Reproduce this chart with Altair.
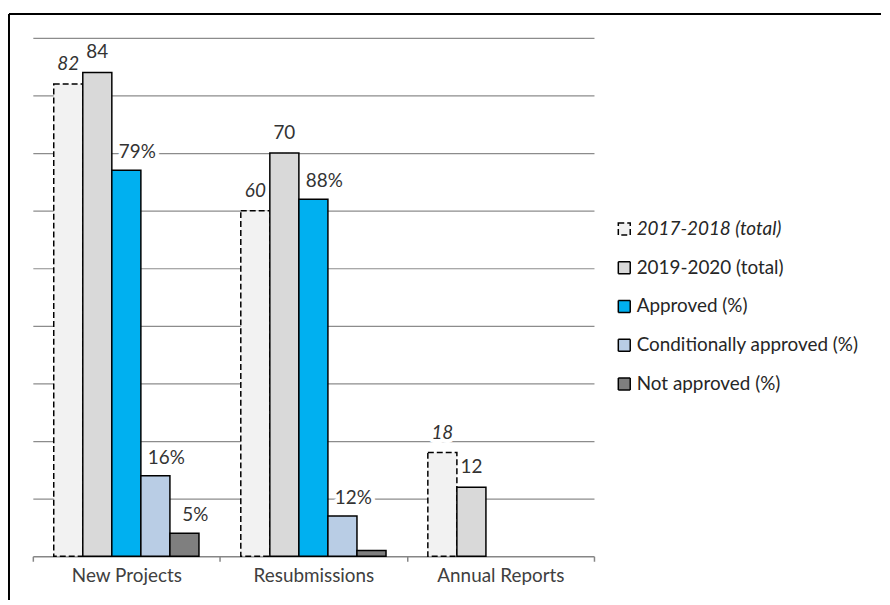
import altair as alt
import pandas as pd

categories = ["New Projects", "Resubmissions", "Annual Reports"]
series = ["2017-2018 (total)", "2019-2020 (total)", "Approved (%)",
          "Conditionally approved (%)", "Not approved (%)"]

total_2017 = [82, 60, 18]
total_2019 = [84, 70, 12]
approved = [67, 62, None]
conditional = [14, 7, None]
not_approved = [4, 1, None]

label_2017 = ["82", "60", "18"]
label_2019 = ["84", "70", "12"]
label_approved = ["79%", "88%", ""]
label_conditional = ["16%", "12%", ""]
label_not = ["5%", "", ""]

colors = ["#f2f2f2", "#d9d9d9", "#00b0f0", "#b9cde5", "#7f7f7f"]
dashes = [[6, 3], [1, 0], [1, 0], [1, 0], [1, 0]]
strokes = ["black"] * 5

values_by_series = [total_2017, total_2019, approved, conditional, not_approved]
labels_by_series = [label_2017, label_2019, label_approved, label_conditional, label_not]
kinds = ["old", "new", "pct", "pct", "pct"]

rows = []
for s, vals, labs, kind in zip(series, values_by_series, labels_by_series, kinds):
    for c, v, l in zip(categories, vals, labs):
        if v is None:
            continue
        rows.append({"category": c, "series": s, "value": v, "label": l, "kind": kind})
df = pd.DataFrame(rows)

FONT = "Lato"
FS = 19
TEXT = "#333333"

x = alt.X("category:N", sort=categories,
          scale=alt.Scale(domain=categories, range=[24, 589], paddingInner=0, paddingOuter=0),
          axis=alt.Axis(title=None, tickBand="extent", labelAngle=0, domainColor="#868686",
                        tickColor="#868686", tickSize=5, domainWidth=1.5, tickWidth=1.5,
                        labelFont=FONT, labelFontSize=FS, labelColor="#404040", labelPadding=5))
xo = alt.XOffset("series:N", sort=series,
                 scale=alt.Scale(domain=series, paddingOuter=0.72, paddingInner=0))
y = alt.Y("value:Q",
          scale=alt.Scale(domain=[0, 90], range=[546, 24], nice=False, zero=True),
          axis=alt.Axis(title=None, domain=False, ticks=False, labels=False, grid=True,
                        values=list(range(10, 100, 10)), gridColor="#8c8c8c", gridWidth=1.25))

base = alt.Chart(df)

legend = alt.Legend(title=None, orient="none", legendX=610, legendY=207,
                    symbolType="square", symbolSize=144, symbolStrokeColor="black",
                    symbolStrokeWidth=1.5, labelFont=FONT, labelFontSize=FS,
                    labelColor="#262626", rowPadding=19, labelOffset=3, labelLimit=0,
                    labelFontStyle={"expr": "datum.label === '2017-2018 (total)' ? 'italic' : 'normal'"})

bars = base.mark_bar(strokeWidth=1.5).encode(
    x=x, xOffset=xo, y=y,
    fill=alt.Fill("series:N", sort=series, scale=alt.Scale(domain=series, range=colors), legend=legend),
    stroke=alt.Stroke("series:N", sort=series, scale=alt.Scale(domain=series, range=strokes), legend=legend),
    strokeDash=alt.StrokeDash("series:N", sort=series, scale=alt.Scale(domain=series, range=dashes), legend=legend),
)


def text_layer(kind, dx, dy, italic, halo):
    props = dict(font=FONT, fontSize=FS, dx=dx, dy=dy, baseline="middle", align="center")
    if italic:
        props["fontStyle"] = "italic"
    if halo:
        props.update(stroke="white", strokeWidth=8, fill="white", strokeJoin="round")
    else:
        props["fill"] = TEXT
    return base.mark_text(**props).transform_filter(
        f"datum.kind === '{kind}' && datum.label !== ''"
    ).encode(x=x, xOffset=xo, y=y, text="label:N")


specs = [("old", 0, -20, True), ("new", 0, -20, False), ("pct", 11, -18, False)]
halos = [text_layer(k, dx, dy, it, True) for k, dx, dy, it in specs]
texts = [text_layer(k, dx, dy, it, False) for k, dx, dy, it in specs]

frame_df = pd.DataFrame({"frame": [0]})
frame_top = alt.Chart(frame_df).mark_rule(color="black", strokeWidth=2).encode(
    x=alt.value(0), x2=alt.value(878), y=alt.value(0))
frame_left = alt.Chart(frame_df).mark_rule(color="black", strokeWidth=2).encode(
    x=alt.value(0), y=alt.value(0), y2=alt.value(590))

chart = alt.layer(frame_top, frame_left, *halos, bars, *texts).properties(
    width=878, height=546,
    padding={"left": 0, "top": 3, "right": 0, "bottom": 0},
    background="white",
).configure_view(stroke="transparent", strokeWidth=0)

chart.save("out.html", embed_options={"renderer": "svg", "actions": False})
